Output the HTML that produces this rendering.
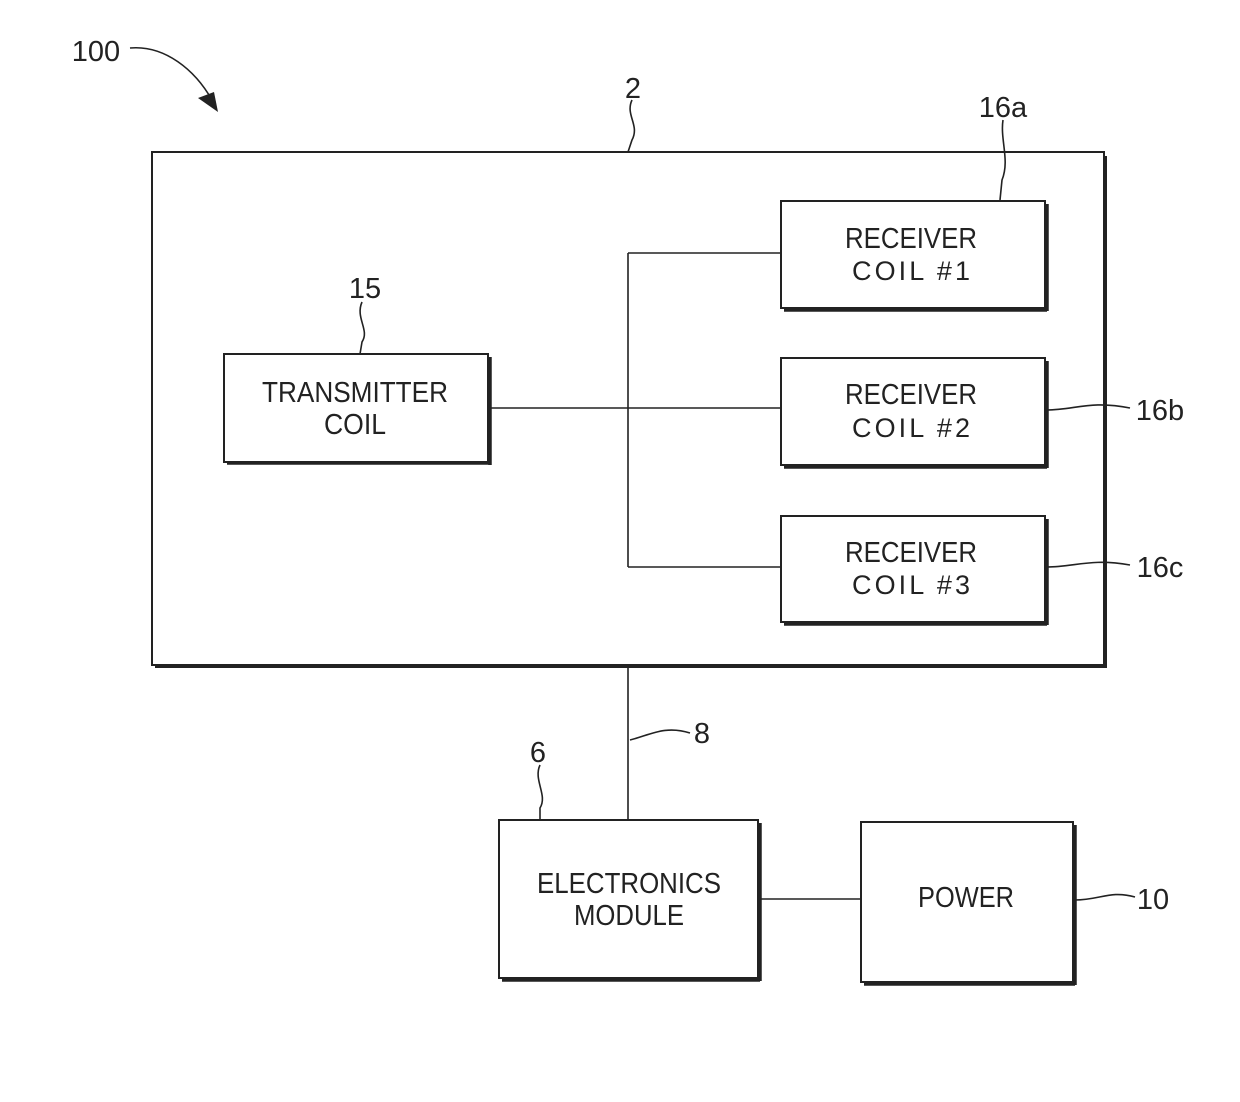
<!DOCTYPE html>
<html><head><meta charset="utf-8"><style>html,body{margin:0;padding:0;background:#fff}</style></head>
<body>
<svg width="1240" height="1097" viewBox="0 0 1240 1097" xmlns="http://www.w3.org/2000/svg" font-family="Liberation Sans, sans-serif" fill="none" stroke="#222">
<rect x="152" y="152" width="952" height="513" stroke-width="2"/>
<line x1="1105" y1="156" x2="1105" y2="668" stroke-width="4"/>
<line x1="155" y1="666" x2="1106" y2="666" stroke-width="4"/>
<g stroke-width="2">
<rect x="224" y="354" width="264" height="108"/>
<rect x="781" y="201" width="264" height="107"/>
<rect x="781" y="358" width="264" height="107"/>
<rect x="781" y="516" width="264" height="106"/>
<rect x="499" y="820" width="259" height="158"/>
<rect x="861" y="822" width="212" height="160"/>
</g>
<g stroke-width="3.5">
<line x1="490" y1="357" x2="490" y2="465"/><line x1="227" y1="463" x2="490" y2="463"/>
<line x1="1047" y1="204" x2="1047" y2="311"/><line x1="784" y1="310" x2="1047" y2="310"/>
<line x1="1047" y1="361" x2="1047" y2="468"/><line x1="784" y1="467" x2="1047" y2="467"/>
<line x1="1047" y1="519" x2="1047" y2="625"/><line x1="784" y1="624" x2="1047" y2="624"/>
<line x1="760" y1="823" x2="760" y2="981"/><line x1="502" y1="980" x2="760" y2="980"/>
<line x1="1075" y1="825" x2="1075" y2="985"/><line x1="864" y1="984" x2="1075" y2="984"/>
</g>
<g stroke-width="1.6">
<line x1="488" y1="408" x2="781" y2="408"/>
<line x1="628" y1="253" x2="628" y2="567"/>
<line x1="628" y1="253" x2="781" y2="253"/>
<line x1="628" y1="567" x2="781" y2="567"/>
<line x1="628" y1="667" x2="628" y2="820"/>
<line x1="760" y1="899" x2="861" y2="899"/>
<path d="M632 100 C 625 115, 640 125, 632 140 L628 152"/>
<path d="M1003 120 C 1000 140, 1010 160, 1002 180 L1000 200"/>
<path d="M362 302 C 355 318, 370 330, 362 342 L360 354"/>
<path d="M1047 410 C 1075 410, 1090 400, 1130 408"/>
<path d="M1047 567 C 1075 567, 1090 558, 1130 565"/>
<path d="M1075 900 C 1100 900, 1110 890, 1135 897"/>
<path d="M630 740 C 650 735, 665 725, 690 733"/>
<path d="M540 765 C 533 780, 548 795, 540 808 L540 820"/>
<path d="M130 48 C 165 45, 195 70, 212 100"/>
</g>
<path d="M218 112 L198 98 L214 92 Z" fill="#222" stroke="none"/>
<g fill="#222" stroke="none" font-size="29" text-anchor="middle">
<text x="355" y="402" textLength="186" lengthAdjust="spacingAndGlyphs">TRANSMITTER</text>
<text x="355" y="434" textLength="62" lengthAdjust="spacingAndGlyphs">COIL</text>
<text x="911" y="248" textLength="132" lengthAdjust="spacingAndGlyphs">RECEIVER</text>
<text x="911" y="280" textLength="118" lengthAdjust="spacing" font-size="27">COIL  #1</text>
<text x="911" y="404" textLength="132" lengthAdjust="spacingAndGlyphs">RECEIVER</text>
<text x="911" y="437" textLength="118" lengthAdjust="spacing" font-size="27">COIL  #2</text>
<text x="911" y="562" textLength="132" lengthAdjust="spacingAndGlyphs">RECEIVER</text>
<text x="911" y="594" textLength="118" lengthAdjust="spacing" font-size="27">COIL  #3</text>
<text x="629" y="893" textLength="184" lengthAdjust="spacingAndGlyphs">ELECTRONICS</text>
<text x="629" y="925" textLength="110" lengthAdjust="spacingAndGlyphs">MODULE</text>
<text x="966" y="907" textLength="96" lengthAdjust="spacingAndGlyphs">POWER</text>
<text x="96" y="61">100</text>
<text x="633" y="98">2</text>
<text x="1003" y="117">16a</text>
<text x="365" y="298">15</text>
<text x="1160" y="420">16b</text>
<text x="1160" y="577">16c</text>
<text x="702" y="743">8</text>
<text x="538" y="762">6</text>
<text x="1153" y="909">10</text>
</g>
</svg>
</body></html>
